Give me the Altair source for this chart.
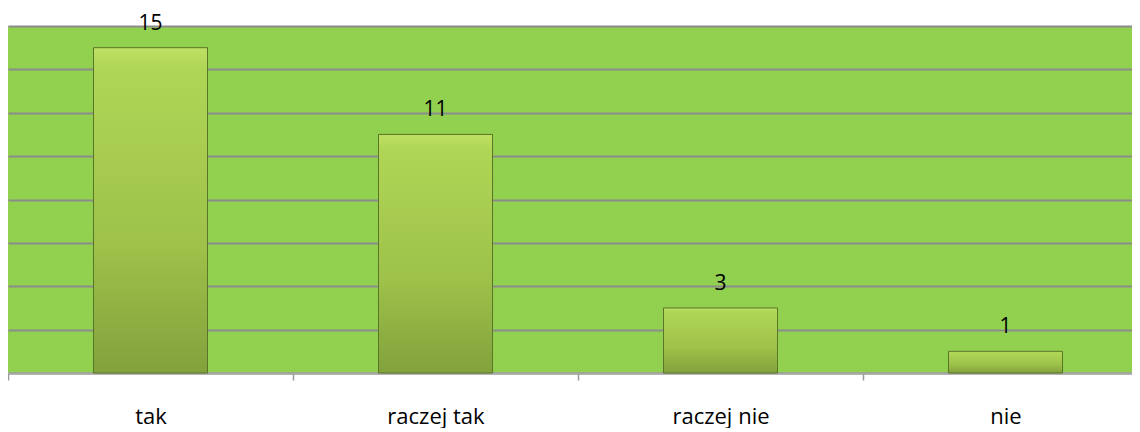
import altair as alt
import pandas as pd

categories = ["tak", "raczej tak", "raczej nie", "nie"]
values = [15, 11, 3, 1]

df = pd.DataFrame({"kategoria": categories, "liczba": values})

x = alt.X("kategoria:N", sort=categories,
          scale=alt.Scale(paddingInner=0, paddingOuter=0, range=[0, 1140]),
          axis=alt.Axis(title=None, labelAngle=0, labelFont="Open Sans", labelFontSize=22,
                        labelColor="#000000", labelPadding=26, tickBand="extent",
                        tickColor="#9a9a9a", tickSize=7, tickWidth=1.5,
                        domainColor="#a6a6a6", domainWidth=2, grid=False))
y = alt.Y("liczba:Q", scale=alt.Scale(domain=[0, 16], nice=False),
          axis=alt.Axis(title=None, labels=False, ticks=False, domain=False,
                        values=list(range(0, 17, 2)), grid=True,
                        gridColor="#8c8c8c", gridWidth=2))

bars = alt.Chart(df).mark_bar(
    width=114,
    color=alt.Gradient(gradient="linear", x1=0, x2=0, y1=0, y2=1,
                       stops=[alt.GradientStop(offset=0, color="#bfe064"),
                              alt.GradientStop(offset=0.06, color="#b0d656"),
                              alt.GradientStop(offset=0.6, color="#9ec24a"),
                              alt.GradientStop(offset=1, color="#82a23c")]),
    stroke="#5b7526", strokeWidth=1
).encode(x=x, y=y)

labels = alt.Chart(df).mark_text(
    font="Open Sans", fontSize=21, color="#000000", baseline="alphabetic", dy=-18
).encode(x=alt.X("kategoria:N", sort=categories), y="liczba:Q", text="liczba:Q")

chart = (bars + labels).properties(
    width=1124, height=347,
    autosize=alt.AutoSizeParams(type="none"),
    padding={"left": 0, "top": 18, "right": 0, "bottom": 55},
    background="#ffffff"
).configure_view(fill="#92d050", stroke=None)

chart.save("out.html", embed_options={"renderer": "svg", "actions": False})
